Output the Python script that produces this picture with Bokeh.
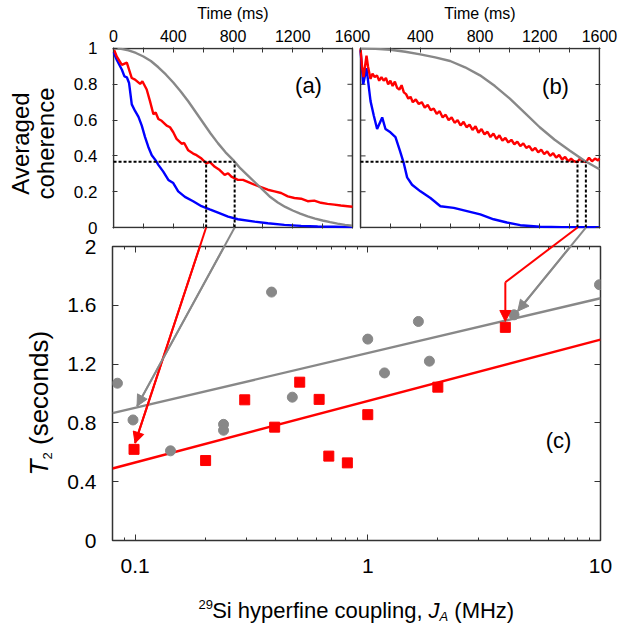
import math
from bokeh.plotting import figure
from bokeh.models import Range1d, LinearAxis, LogAxis, FixedTicker, Arrow, NormalHead
from bokeh.layouts import column
from bokeh.core.properties import value
from bokeh.embed import file_html
from bokeh.resources import INLINE

FONT = "Liberation Sans"
RED, BLUE, GRAY, INK = "#ff0000", "#0000ff", "#888888", "#333333"

# ---------------- ticks / labels ----------------
time_major = [0, 400, 800, 1200, 1600]
time_minor = [200, 600, 1000, 1400]
time_labels = ["0", "400", "800", "1200", "1600"]
coh_ticks = [0, 0.2, 0.4, 0.6, 0.8, 1]
coh_labels = ["0", "0.2", "0.4", "0.6", "0.8", "1"]
t2_ticks = [0, 0.4, 0.8, 1.2, 1.6, 2]
t2_labels = ["0", "0.4", "0.8", "1.2", "1.6", "2"]
ja_ticks = [0.1, 1, 10]
ja_labels = ["0.1", "1", "10"]
ja_minor = [0.08, 0.09, 0.2, 0.3, 0.4, 0.5, 0.6, 0.7, 0.8, 0.9, 2, 3, 4, 5, 6, 7, 8, 9]

# ---------------- panel (a) ----------------
a_blue_t = [0, 22, 56, 73, 89, 104, 122, 144, 167, 189, 211, 233, 256, 282, 300, 333, 367, 400,
            433, 478, 533, 589, 644, 700, 767, 833, 944, 1033, 1144, 1256, 1367, 1478, 1600]
a_blue_v = [0.98, 0.936, 0.881, 0.844, 0.839, 0.807, 0.688, 0.651, 0.618, 0.569, 0.505, 0.45, 0.404,
            0.375, 0.35, 0.312, 0.266, 0.248, 0.202, 0.171, 0.147, 0.119, 0.101, 0.083, 0.061, 0.046,
            0.033, 0.024, 0.015, 0.009, 0.006, 0.004, 0.002]
a_red_t = [0, 22, 56, 89, 122, 144, 178, 193, 222, 244, 267, 282, 300, 322, 356, 378, 400, 422, 456,
           473, 500, 533, 556, 589, 622, 644, 678, 711, 744, 767, 789, 833, 867, 911, 944, 978, 1033,
           1078, 1122, 1167, 1211, 1256, 1300, 1344, 1389, 1433, 1478, 1522, 1567, 1600]
a_red_v = [1.0, 0.954, 0.908, 0.921, 0.835, 0.826, 0.802, 0.817, 0.771, 0.706, 0.633, 0.642, 0.606,
           0.596, 0.569, 0.56, 0.532, 0.495, 0.468, 0.472, 0.431, 0.413, 0.404, 0.385, 0.358, 0.367,
           0.339, 0.321, 0.294, 0.303, 0.284, 0.266, 0.266, 0.251, 0.239, 0.229, 0.211, 0.202, 0.193,
           0.174, 0.165, 0.161, 0.147, 0.15, 0.138, 0.132, 0.128, 0.123, 0.119, 0.116]
a_gray_t = [0, 50, 100, 150, 200, 250, 300, 350, 400, 450, 500, 550, 600, 650, 700, 750, 800, 850,
            900, 950, 1000, 1050, 1100, 1150, 1200, 1250, 1300, 1350, 1400, 1450, 1500, 1550, 1600]
a_gray_v = [1.0, 0.998, 0.99, 0.975, 0.955, 0.93, 0.895, 0.855, 0.81, 0.76, 0.705, 0.645, 0.585,
            0.525, 0.47, 0.42, 0.378, 0.33, 0.29, 0.25, 0.21, 0.17, 0.14, 0.115, 0.095, 0.078, 0.062,
            0.05, 0.039, 0.03, 0.022, 0.015, 0.01]

# ---------------- panel (b) ----------------
b_blue_t = [0, 18, 40, 67, 89, 111, 145, 167, 200, 234, 263, 290, 312, 345, 401, 468, 535, 624,
            713, 802, 891, 980, 1070, 1203, 1350, 1600]
b_blue_v = [0.99, 0.8, 0.89, 0.706, 0.624, 0.55, 0.615, 0.55, 0.532, 0.505, 0.431, 0.358, 0.28,
            0.239, 0.202, 0.165, 0.119, 0.11, 0.092, 0.073, 0.046, 0.028, 0.013, 0.004, 0.002, 0.002]
b_red_t = [0, 10, 20, 30, 40, 50, 67, 80, 95, 110, 125, 140, 155, 170, 185, 200, 215, 230, 245,
           260, 275, 290, 305, 320, 335, 350, 370, 390, 410, 430, 450, 470, 490, 510, 530, 550, 570,
           590, 610, 630, 650, 670, 690, 710, 730, 750, 770, 790, 810, 830, 850, 870, 890, 910, 930,
           950, 970, 990, 1010, 1030, 1050, 1070, 1090, 1110, 1130, 1150, 1170, 1190, 1210, 1230,
           1250, 1270, 1290, 1310, 1330, 1350, 1370, 1390, 1410, 1430, 1450, 1470, 1490, 1510, 1530,
           1550, 1570, 1590, 1600]
b_red_v = [1.0, 0.9, 0.84, 0.9, 0.96, 0.9, 0.83, 0.86, 0.84, 0.85, 0.82, 0.84, 0.82, 0.835, 0.8,
           0.82, 0.79, 0.815, 0.78, 0.77, 0.795, 0.755, 0.745, 0.72, 0.73, 0.7, 0.715, 0.69, 0.7,
           0.67, 0.685, 0.655, 0.665, 0.635, 0.65, 0.615, 0.63, 0.6, 0.615, 0.585, 0.6, 0.57, 0.59,
           0.56, 0.575, 0.545, 0.565, 0.53, 0.55, 0.52, 0.535, 0.505, 0.525, 0.495, 0.515, 0.485,
           0.5, 0.475, 0.49, 0.465, 0.48, 0.455, 0.47, 0.445, 0.455, 0.43, 0.445, 0.42, 0.435, 0.41,
           0.425, 0.4, 0.415, 0.39, 0.405, 0.38, 0.395, 0.37, 0.385, 0.37, 0.365, 0.385, 0.37, 0.365,
           0.39, 0.37, 0.385, 0.375, 0.385]
b_gray_t = [0, 100, 200, 300, 400, 500, 600, 700, 800, 900, 1000, 1100, 1200, 1300, 1400, 1500, 1600]
b_gray_v = [1.0, 0.998, 0.993, 0.982, 0.967, 0.95, 0.93, 0.895, 0.85, 0.79, 0.72, 0.64, 0.56, 0.49,
            0.43, 0.373, 0.325]

# 1/e level and crossing times (ms)
e_level = 0.368
a_red_cross, a_gray_cross = 620, 811
b_red_cross, b_gray_cross = 1453, 1509

# ---------------- panel (c) ----------------
gray_J = [0.084, 0.098, 0.142, 0.240, 0.240, 0.386, 0.474, 1.0, 1.18, 1.65, 1.84, 4.25, 9.9]
gray_T2 = [1.07, 0.82, 0.61, 0.79, 0.75, 1.69, 0.975, 1.37, 1.14, 1.49, 1.22, 1.535, 1.74]
red_J = [0.099, 0.201, 0.296, 0.398, 0.51, 0.618, 0.68, 0.817, 1.0, 2.0, 3.9]
red_T2 = [0.62, 0.544, 0.957, 0.771, 1.077, 0.96, 0.574, 0.528, 0.856, 1.043, 1.45]
fit_J = [0.08, 10]
gray_fit = [0.866, 1.648]
red_fit = [0.49, 1.367]

# arrow targets in (c)
arrow_a_red_tip = (0.100, 0.662)
arrow_a_gray_tip = (0.102, 0.914)
arrow_b_red_bend = (3.9, 1.757)
arrow_b_red_tip = (3.9, 1.49)
arrow_b_gray_tip = (4.41, 1.56)

# ---------------- layout constants ----------------
W = 623
FL, FR = 112, 23
TOP_H, TOP_T, TOP_B = 248, 47, 20
C_H, C_T, C_B, C_SHIFT = 423, 46, 83, -48
FRAME_W = W - FL - FR
TOP_FH = TOP_H - TOP_T - TOP_B
C_FH = C_H - C_T - C_B
PAGE = 0

T_MAX = 1600
GAP_MS = 54
B_OFF = T_MAX + GAP_MS
PAD_T = 7
PAD_V = 0.0055
T_LO, T_HI = -PAD_T, B_OFF + T_MAX + PAD_T
V_LO, V_HI = -PAD_V, 1 + PAD_V
J_LO, J_HI = 0.08, 10
Y_LO, Y_HI = 0, 2

TOP_PX_MS = FRAME_W / (T_HI - T_LO)
TOP_PX_V = TOP_FH / (V_HI - V_LO)
C_PX_DEC = FRAME_W / (math.log10(J_HI) - math.log10(J_LO))
C_PX_Y = C_FH / (Y_HI - Y_LO)
FRAME_LEFT = PAGE + FL
TOP_FRAME_TOP = PAGE + TOP_T
C_FRAME_TOP = PAGE + TOP_H + C_SHIFT + C_T


def top_t(sx):
    return T_LO + (sx - FRAME_LEFT) / TOP_PX_MS


def top_v(sy):
    return V_HI - (sy - TOP_FRAME_TOP) / TOP_PX_V


def c_J(sx):
    return J_LO * 10 ** ((sx - FRAME_LEFT) / C_PX_DEC)


def c_T(sy):
    return Y_HI - (sy - C_FRAME_TOP) / C_PX_Y


def style_axis(ax, size, standoff, labels=True, tin=5, min_in=5):
    ax.axis_line_color = None
    ax.major_tick_in, ax.major_tick_out = tin, 0
    ax.minor_tick_in, ax.minor_tick_out = min_in, 0
    ax.major_tick_line_color = INK
    ax.minor_tick_line_color = INK
    ax.major_tick_line_width = 1
    ax.minor_tick_line_width = 1
    ax.major_label_text_font = FONT
    ax.major_label_text_color = "black"
    if labels:
        ax.major_label_text_font_size = f"{size}px"
        ax.major_label_standoff = standoff
    else:
        ax.major_label_text_font_size = "1px"
        ax.major_label_text_color = None
        ax.major_label_standoff = 0


def add_text(p, x, y, text, size, align="left", baseline="alphabetic", angle=0.0, style="normal"):
    p.text(x=[x], y=[y], text=[text], text_font=value(FONT), text_font_size=value(f"{size}px"),
           text_align=value(align), text_baseline=value(baseline), angle=angle,
           text_font_style=value(style), text_color="black", level="overlay")


# ================= top figure: panels (a) and (b) =================
top = figure(width=W, height=TOP_H, x_range=Range1d(T_LO, T_HI), y_range=Range1d(V_LO, V_HI),
             x_axis_location=None, y_axis_location=None, output_backend="svg",
             toolbar_location=None, min_border_left=FL, min_border_right=FR,
             min_border_top=TOP_T, min_border_bottom=TOP_B)
top.outline_line_color = None
top.grid.visible = False
top.background_fill_color = "white"
top.border_fill_color = "white"

x_major = time_major + [B_OFF + t for t in time_major[1:]]
x_minor = time_minor + [B_OFF] + [B_OFF + t for t in time_minor]
x_over = {t: s for t, s in zip(time_major, time_labels)}
x_over.update({B_OFF + t: s for t, s in zip(time_major[1:], time_labels[1:])})

ax_above = LinearAxis(ticker=FixedTicker(ticks=x_major, minor_ticks=x_minor))
style_axis(ax_above, 16, 6)
ax_above.major_label_overrides = x_over
top.add_layout(ax_above, "above")
ax_below = LinearAxis(ticker=FixedTicker(ticks=x_major, minor_ticks=x_minor))
style_axis(ax_below, 16, 0, labels=False)
top.add_layout(ax_below, "below")
ax_left = LinearAxis(ticker=FixedTicker(ticks=coh_ticks))
style_axis(ax_left, 17, 15)
ax_left.major_label_overrides = {t: s for t, s in zip(coh_ticks, coh_labels)}
top.add_layout(ax_left, "left")
ax_right = LinearAxis(ticker=FixedTicker(ticks=coh_ticks))
style_axis(ax_right, 17, 0, labels=False)
top.add_layout(ax_right, "right")

# panel boxes
top.quad(left=[0, B_OFF], right=[T_MAX, B_OFF + T_MAX], bottom=[0, 0], top=[1, 1],
         fill_color=None, line_color=INK, line_width=1.5)
# inner ticks at the gap edges
tick_ms = 5 / TOP_PX_MS
inner = coh_ticks[1:-1]
top.segment(x0=[T_MAX] * len(inner) + [B_OFF] * len(inner), y0=inner + inner,
            x1=[T_MAX - tick_ms] * len(inner) + [B_OFF + tick_ms] * len(inner), y1=inner + inner,
            line_color=INK, line_width=1)

# curves
top.line(a_blue_t, a_blue_v, line_color=BLUE, line_width=2.4)
top.line(a_red_t, a_red_v, line_color=RED, line_width=2.4)
top.line(a_gray_t, a_gray_v, line_color=GRAY, line_width=2.4)
top.line([B_OFF + t for t in b_blue_t], b_blue_v, line_color=BLUE, line_width=2.4)
top.line([B_OFF + t for t in b_red_t], b_red_v, line_color=RED, line_width=2.4)
top.line([B_OFF + t for t in b_gray_t], b_gray_v, line_color=GRAY, line_width=2.4)

# 1/e guide lines
dx0 = [0, a_red_cross, a_gray_cross, B_OFF, B_OFF + b_red_cross, B_OFF + b_gray_cross]
dx1 = [a_gray_cross, a_red_cross, a_gray_cross, B_OFF + b_gray_cross, B_OFF + b_red_cross,
       B_OFF + b_gray_cross]
dy0 = [e_level, 0, 0, e_level, 0, 0]
top.segment(x0=dx0, y0=dy0, x1=dx1, y1=[e_level] * 6, line_color="black", line_width=2,
            line_dash="3 2")

# texts of the top figure
add_text(top, T_MAX / 2, top_v(13), "Time (ms)", 16, align="center")
add_text(top, B_OFF + T_MAX / 2, top_v(13), "Time (ms)", 16, align="center")
add_text(top, top_t(308), top_v(85), "(a)", 22, align="center", baseline="middle")
add_text(top, top_t(555), top_v(86), "(b)", 22, align="center", baseline="middle")
add_text(top, top_t(20), top_v(143), "Averaged", 24, align="center", angle=math.pi / 2)
add_text(top, top_t(45), top_v(143), "coherence", 24, align="center", angle=math.pi / 2)

# ================= bottom figure: panel (c) =================
pc = figure(width=W, height=C_H, x_axis_type="log", x_range=Range1d(J_LO, J_HI),
            y_range=Range1d(Y_LO, Y_HI), x_axis_location=None, y_axis_location=None,
            output_backend="svg", toolbar_location=None, min_border_left=FL, min_border_right=FR,
            min_border_top=C_T, min_border_bottom=C_B, margin=(C_SHIFT, 0, 0, 0))
pc.grid.visible = False
pc.border_fill_color = None
pc.background_fill_color = "white"
pc.outline_line_color = INK
pc.outline_line_width = 1.5

cx_below = LogAxis(ticker=FixedTicker(ticks=ja_ticks, minor_ticks=ja_minor))
style_axis(cx_below, 21, 18, tin=6, min_in=3)
cx_below.major_label_overrides = {t: s for t, s in zip(ja_ticks, ja_labels)}
pc.add_layout(cx_below, "below")
cx_above = LogAxis(ticker=FixedTicker(ticks=ja_ticks, minor_ticks=ja_minor))
style_axis(cx_above, 21, 0, labels=False, tin=6, min_in=3)
pc.add_layout(cx_above, "above")
cy_left = LinearAxis(ticker=FixedTicker(ticks=t2_ticks))
style_axis(cy_left, 21, 16, tin=6)
cy_left.major_label_overrides = {t: s for t, s in zip(t2_ticks, t2_labels)}
pc.add_layout(cy_left, "left")
cy_right = LinearAxis(ticker=FixedTicker(ticks=t2_ticks))
style_axis(cy_right, 21, 0, labels=False, tin=6)
pc.add_layout(cy_right, "right")

pc.line(fit_J, gray_fit, line_color=GRAY, line_width=2.4)
pc.line(fit_J, red_fit, line_color=RED, line_width=2.4)
pc.scatter(gray_J, gray_T2, marker="circle", size=10, fill_color=GRAY, line_color=GRAY)
pc.scatter(red_J, red_T2, marker="square", size=10, fill_color=RED, line_color=RED)

# arrows from the 1/e crossings down to the T2 points
v0_screen = TOP_FRAME_TOP + TOP_FH - (0 - V_LO) * TOP_PX_V
y_start = Y_HI + (C_FRAME_TOP - v0_screen) / C_PX_Y


def start_J(t_comb):
    return J_LO * 10 ** (((t_comb - T_LO) * TOP_PX_MS) / C_PX_DEC)


starts = {
    "a_red": (start_J(a_red_cross), y_start),
    "a_gray": (start_J(a_gray_cross), y_start),
    "b_red": (start_J(B_OFF + b_red_cross), y_start),
    "b_gray": (start_J(B_OFF + b_gray_cross), y_start),
}
body = [
    (starts["a_red"], arrow_a_red_tip, RED),
    (starts["a_gray"], arrow_a_gray_tip, GRAY),
    (starts["b_red"], arrow_b_red_bend, RED),
    (starts["b_gray"], arrow_b_gray_tip, GRAY),
]
for (s, e, col) in body:
    pc.segment(x0=[s[0]], y0=[s[1]], x1=[e[0]], y1=[e[1]], line_color=col, line_width=2,
               level="overlay")

heads = [
    (starts["a_red"], arrow_a_red_tip, RED),
    (starts["a_gray"], arrow_a_gray_tip, GRAY),
    (arrow_b_red_bend, arrow_b_red_tip, RED),
    (starts["b_gray"], arrow_b_gray_tip, GRAY),
]
for (s, e, col) in heads:
    pc.add_layout(Arrow(end=NormalHead(size=11, fill_color=col, line_color=col, line_width=1),
                        x_start=s[0], y_start=s[1], x_end=e[0], y_end=e[1],
                        line_color=col, line_width=2))

# texts of panel (c)
add_text(pc, c_J(558), c_T(440), "(c)", 22, align="center", baseline="middle")
add_text(pc, c_J(198), c_T(604), "29", 13)
add_text(pc, c_J(211.7), c_T(610), "Si hyperfine coupling,", 22)
add_text(pc, c_J(428), c_T(610), "J", 22, style="italic")
add_text(pc, c_J(439), c_T(616), "A", 13, style="italic")
add_text(pc, c_J(453.8), c_T(610), "(MHz)", 22)
add_text(pc, c_J(38), c_T(475), "T", 26, angle=math.pi / 2, style="italic")
add_text(pc, c_J(47), c_T(459), "2", 13, angle=math.pi / 2)
add_text(pc, c_J(38), c_T(444.5), "(seconds)", 26, angle=math.pi / 2)

layout = column(top, pc)
open("out.html", "w").write(file_html(layout, INLINE))
